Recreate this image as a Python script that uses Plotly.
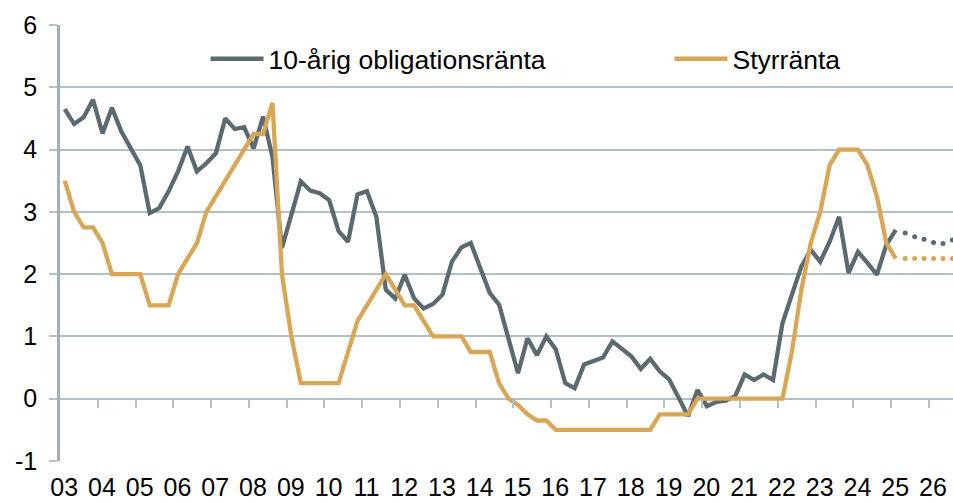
import plotly.graph_objects as go

# ---------------- data (quarterly, 2003Q1 .. 2025Q1) ----------------
first_year = 2003
bond_10y = [
    4.65, 4.41, 4.52, 4.80, 4.26, 4.67, 4.29, 4.02, 3.75, 2.98, 3.06, 3.33,
    3.65, 4.05, 3.65, 3.78, 3.94, 4.50, 4.33, 4.36, 4.02, 4.53, 3.88, 2.42,
    2.97, 3.49, 3.34, 3.30, 3.19, 2.69, 2.52, 3.28, 3.33, 2.92, 1.75, 1.61,
    1.99, 1.61, 1.45, 1.52, 1.67, 2.20, 2.43, 2.50, 2.10, 1.70, 1.51, 0.95,
    0.41, 0.97, 0.70, 1.00, 0.79, 0.25, 0.17, 0.55, 0.61, 0.66, 0.92, 0.79,
    0.68, 0.48, 0.64, 0.44, 0.31, 0.02, -0.28, 0.14, -0.12, -0.05, -0.03, 0.04,
    0.39, 0.30, 0.39, 0.30, 1.21, 1.67, 2.12, 2.39, 2.20, 2.52, 2.92, 2.02,
    2.36, 2.18, 1.99, 2.47, 2.71,
]
repo_rate = [
    3.50, 3.00, 2.75, 2.75, 2.50, 2.00, 2.00, 2.00, 2.00, 1.50, 1.50, 1.50,
    2.00, 2.25, 2.50, 3.00, 3.25, 3.50, 3.75, 4.00, 4.25, 4.25, 4.75, 2.00,
    1.00, 0.25, 0.25, 0.25, 0.25, 0.25, 0.75, 1.25, 1.50, 1.75, 2.00, 1.75,
    1.50, 1.50, 1.25, 1.00, 1.00, 1.00, 1.00, 0.75, 0.75, 0.75, 0.25, 0.00,
    -0.10, -0.25, -0.35, -0.35, -0.50, -0.50, -0.50, -0.50, -0.50, -0.50, -0.50, -0.50,
    -0.50, -0.50, -0.50, -0.25, -0.25, -0.25, -0.25, 0.00, 0.00, 0.00, 0.00, 0.00,
    0.00, 0.00, 0.00, 0.00, 0.00, 0.75, 1.75, 2.50, 3.00, 3.75, 4.00, 4.00,
    4.00, 3.75, 3.25, 2.50, 2.25,
]
# forecasts (dotted), 2025Q2 .. 2026Q4
bond_10y_forecast = [2.66, 2.60, 2.56, 2.51, 2.49, 2.55, 2.56]
repo_rate_forecast = [2.25, 2.25, 2.25, 2.25, 2.25, 2.25, 2.25]

years = list(range(2003, 2027))
year_labels = ["03", "04", "05", "06", "07", "08", "09", "10", "11", "12", "13", "14",
               "15", "16", "17", "18", "19", "20", "21", "22", "23", "24", "25", "26"]
y_ticks = [-1, 0, 1, 2, 3, 4, 5, 6]
y_tick_labels = ["-1", "0", "1", "2", "3", "4", "5", "6"]

series_names = ["10-årig obligationsränta", "Styrränta"]

# ---------------- styling ----------------
GRAY = "#5B6A70"
ORANGE = "#D9A656"
GRID = "#B2C0C8"
AXIS = "#A2AFB7"
FONT = "Liberation Sans, Arial, sans-serif"

def qx(i):
    """Centre of quarter i (0 = first quarter of first_year) on a year scale."""
    return first_year + (i + 0.5) / 4

x_hist = [qx(i) for i in range(len(bond_10y))]
x_fc = [qx(len(bond_10y) + i) for i in range(len(bond_10y_forecast))]
x_end = 2026.64

fig = go.Figure()
fig.add_trace(go.Scatter(x=x_hist, y=bond_10y, mode="lines", name=series_names[0],
                         line=dict(color=GRAY, width=4.3), legend="legend"))
fig.add_trace(go.Scatter(x=x_fc, y=bond_10y_forecast, mode="markers", showlegend=False,
                         marker=dict(color=GRAY, size=5), hoverinfo="skip"))
fig.add_trace(go.Scatter(x=x_hist, y=repo_rate, mode="lines", name=series_names[1],
                         line=dict(color=ORANGE, width=4.3), legend="legend2"))
fig.add_trace(go.Scatter(x=x_fc, y=repo_rate_forecast, mode="markers", showlegend=False,
                         marker=dict(color=ORANGE, size=5), hoverinfo="skip",
                         xaxis="x2"))

fig.update_layout(
    width=953, height=503,
    margin=dict(l=60, r=0, t=25, b=42, autoexpand=False),
    paper_bgcolor="white", plot_bgcolor="white",
    font=dict(family=FONT, size=25, color="black"),
    xaxis=dict(
        range=[2003, x_end], automargin=False,
        tickmode="array",
        tickvals=[y + 0.11 for y in years], ticktext=year_labels,
        ticks="", showgrid=False, zeroline=False, showline=False,
        tickfont=dict(size=25), ticklabelstandoff=9,
    ),
    xaxis2=dict(
        overlaying="x", anchor="free", position=1 / 7, automargin=False,
        range=[2003, x_end],
        tickmode="array", tickvals=years[1:],
        ticks="outside", ticklen=8, tickwidth=2, tickcolor=GRID,
        showticklabels=False, showgrid=False, zeroline=False, showline=False,
    ),
    yaxis=dict(
        range=[-1, 6], automargin=False,
        tickmode="array", tickvals=y_ticks, ticktext=y_tick_labels,
        showgrid=True, gridcolor=GRID, gridwidth=2, zeroline=False,
        ticks="outside", ticklen=8, tickwidth=2, tickcolor=GRID,
        showline=True, linecolor=AXIS, linewidth=2.5,
        tickfont=dict(size=25), ticklabelstandoff=7,
    ),
    legend=dict(x=0.163, y=0.922, xanchor="left", yanchor="middle",
                font=dict(size=26.5), bgcolor="rgba(0,0,0,0)", itemwidth=53),
    legend2=dict(x=0.6825, y=0.922, xanchor="left", yanchor="middle",
                 font=dict(size=26.5), bgcolor="rgba(0,0,0,0)", itemwidth=53),
    showlegend=True,
)

fig.write_html("out.html", config={"displayModeBar": False},
               post_script="document.body.style.margin='0';")
